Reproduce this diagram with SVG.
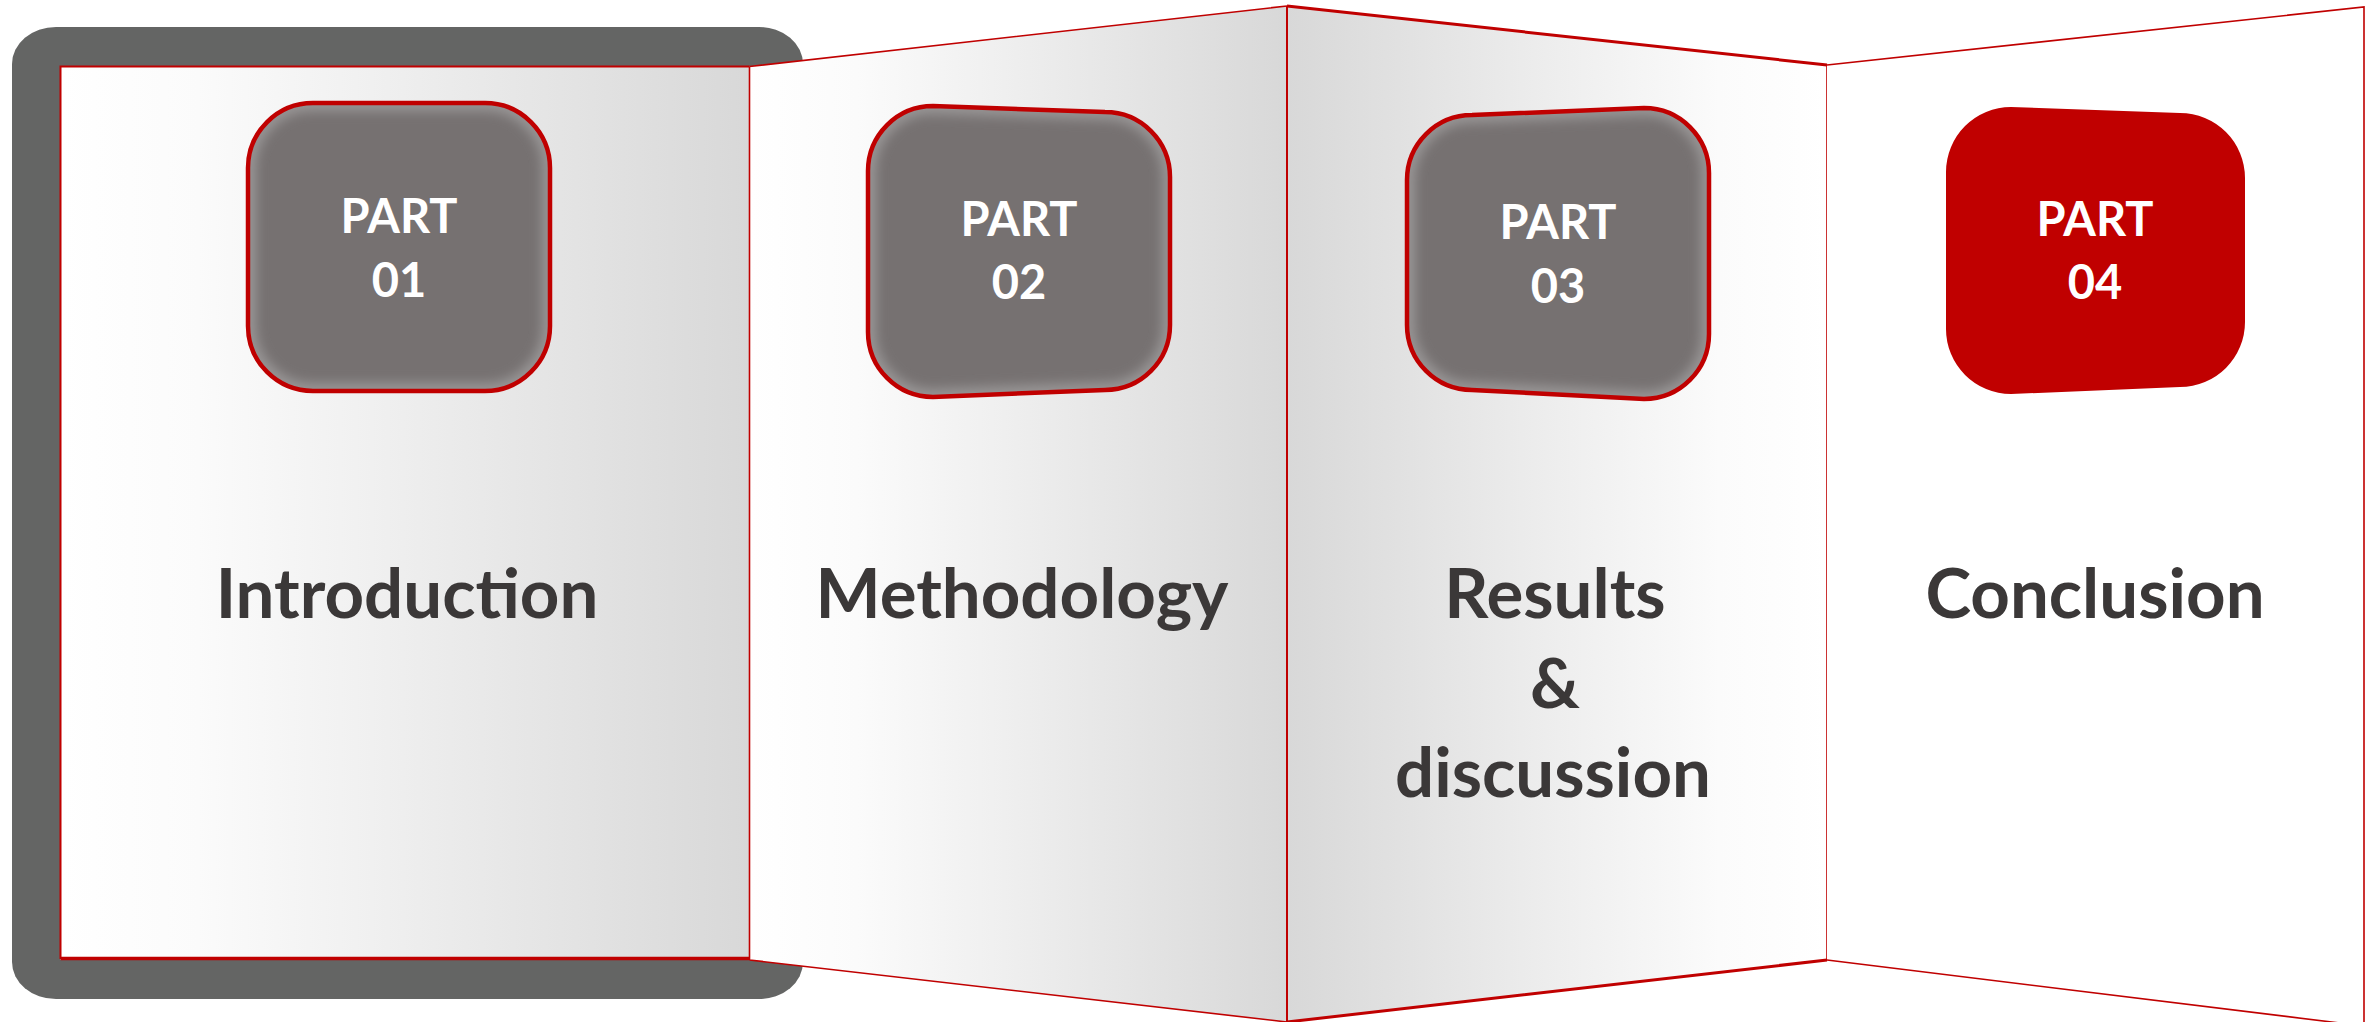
<svg xmlns="http://www.w3.org/2000/svg" xmlns:xlink="http://www.w3.org/1999/xlink" width="2374" height="1022" viewBox="0 0 2374 1022">
<style>
.edge{fill:none;stroke:#c00000;stroke-linejoin:miter}
.part{font-family:Lato,"Liberation Sans",sans-serif;font-weight:700;font-size:47px;fill:#ffffff;text-anchor:middle}
.lbl{font-family:Lato,"Liberation Sans",sans-serif;font-weight:700;font-size:69px;fill:#3b3838;text-anchor:middle}
.boxfill{fill:#767171}
.glow{fill:none;stroke:#999696;stroke-width:16}
.boxedge{fill:none;stroke:#c00000;stroke-width:4.5}
</style>
<defs>
<linearGradient id="gLR" x1="0" y1="0" x2="1" y2="0">
<stop offset="0" stop-color="#ffffff"/>
<stop offset="0.2" stop-color="#fbfbfb"/>
<stop offset="1" stop-color="#d8d8d8"/>
</linearGradient>
<linearGradient id="gRL" x1="0" y1="0" x2="1" y2="0">
<stop offset="0" stop-color="#d8d8d8"/>
<stop offset="0.8" stop-color="#fbfbfb"/>
<stop offset="1" stop-color="#ffffff"/>
</linearGradient>
<filter id="blur" x="-20%" y="-20%" width="140%" height="140%">
<feGaussianBlur stdDeviation="6"/>
</filter>
<path id="b1" d="M 313,103 L 485,103 A 65 65 0 0 1 550,168 L 550,326 A 65 65 0 0 1 485,391 L 313,391 A 65 65 0 0 1 248,326 L 248,168 A 65 65 0 0 1 313,103 Z"/>
<path id="b2" d="M 933,106 L 1105,112 A 65 65 0 0 1 1170,177 L 1170,325 A 65 65 0 0 1 1105,390 L 933,397 A 65 65 0 0 1 868,332 L 868,171 A 65 65 0 0 1 933,106 Z"/>
<path id="b3" d="M 1472,115 L 1644,108 A 65 65 0 0 1 1709,173 L 1709,334 A 65 65 0 0 1 1644,399 L 1472,390 A 65 65 0 0 1 1407,325 L 1407,180 A 65 65 0 0 1 1472,115 Z"/>
<path id="b4" d="M 2011,107 L 2180,113 A 65 65 0 0 1 2245,178 L 2245,322 A 65 65 0 0 1 2180,387 L 2011,394 A 65 65 0 0 1 1946,329 L 1946,172 A 65 65 0 0 1 2011,107 Z"/>
<clipPath id="c1"><use xlink:href="#b1"/></clipPath>
<clipPath id="c2"><use xlink:href="#b2"/></clipPath>
<clipPath id="c3"><use xlink:href="#b3"/></clipPath>
</defs>
<rect width="2374" height="1022" fill="#ffffff"/>

<g id="panels">
<rect id="frame" x="12" y="27" width="791" height="972" rx="44" ry="37" fill="#646564"/>
<g id="panel1">
<rect x="60.5" y="66.5" width="689" height="893.5" fill="url(#gLR)"/>
<path class="edge" stroke-width="2" d="M 60.5,959 L 60.5,66.5 L 749.5,66.5"/>
<path class="edge" stroke-width="3.5" d="M 60.5,958.5 L 749.5,958.5"/>
</g>
<g id="panel2">
<polygon points="749.5,66.5 1287,6 1287,1022 749.5,960" fill="url(#gLR)"/>
<path class="edge" stroke-width="1.6" d="M 749.5,66.5 L 1287,6 M 749.5,960 L 1287,1022 M 749.5,66.5 L 749.5,960"/>
</g>
<g id="panel3">
<polygon points="1287,6 1827,65 1827,960 1287,1022" fill="url(#gRL)"/>
<path class="edge" stroke-width="3" d="M 1287,6 L 1827,65 M 1287,1022 L 1827,960"/>
<path class="edge" stroke-width="2" d="M 1287,6 L 1287,1022"/>
<path class="edge" stroke-width="1.6" d="M 1827,65 L 1827,960"/>
</g>
<g id="panel4">
<polygon points="1827,65 2364,7 2364,1026 1827,960" fill="#ffffff"/>
<path class="edge" stroke-width="1.6" d="M 1827,65 L 2364,7 L 2364,1026 M 1827,960 L 2364,1026"/>
</g>
</g>

<g id="node1">
<g clip-path="url(#c1)"><use xlink:href="#b1" class="boxfill"/><use xlink:href="#b1" class="glow" filter="url(#blur)"/></g>
<use xlink:href="#b1" class="boxedge"/>
<text class="part" x="399" y="233">PART</text>
<text class="part" x="399" y="297">01</text>
<text class="lbl" x="407" y="618">Introduction</text>
</g>

<g id="node2">
<g clip-path="url(#c2)"><use xlink:href="#b2" class="boxfill"/><use xlink:href="#b2" class="glow" filter="url(#blur)"/></g>
<use xlink:href="#b2" class="boxedge"/>
<text class="part" x="1019" y="236">PART</text>
<text class="part" x="1019" y="299">02</text>
<text class="lbl" x="1022" y="618">Methodology</text>
</g>

<g id="node3">
<g clip-path="url(#c3)"><use xlink:href="#b3" class="boxfill"/><use xlink:href="#b3" class="glow" filter="url(#blur)"/></g>
<use xlink:href="#b3" class="boxedge"/>
<text class="part" x="1558" y="239">PART</text>
<text class="part" x="1558" y="303">03</text>
<text class="lbl" x="1555" y="618">Results</text>
<text class="lbl" x="1555" y="708">&amp;</text>
<text class="lbl" x="1553" y="797">discussion</text>
</g>

<g id="node4">
<use xlink:href="#b4" fill="#c00000"/>
<text class="part" x="2095" y="236">PART</text>
<text class="part" x="2095" y="299">04</text>
<text class="lbl" x="2095" y="618">Conclusion</text>
</g>
</svg>
